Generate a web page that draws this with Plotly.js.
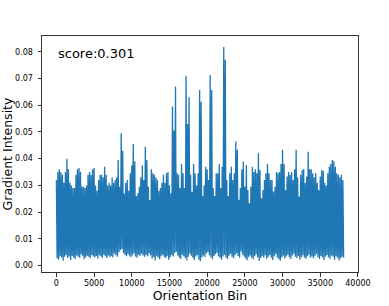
<!DOCTYPE html>
<html>
<head>
<meta charset="utf-8">
<script src="https://cdn.plot.ly/plotly-3.0.1.min.js"></script>
<style>
html,body{margin:0;padding:0;background:#fff;}
#chart{width:389px;height:306px;}
</style>
</head>
<body>
<div id="chart"></div>
<script>
const binStep = 200;
const upperEnvelope = [
0.032,0.035,0.036,0.035,0.034,0.031,0.035,0.040,0.036,0.031,
0.030,0.029,0.029,0.034,0.036,0.0365,0.035,0.0295,0.0295,0.029,
0.030,0.034,0.035,0.034,0.036,0.0365,0.030,0.028,0.032,0.034,
0.034,0.033,0.037,0.034,0.030,0.031,0.030,0.033,0.031,0.032,
0.033,0.0395,0.0295,0.0495,0.043,0.027,0.031,0.032,0.028,0.0345,
0.0375,0.0455,0.039,0.026,0.027,0.0295,0.033,0.0375,0.032,0.0445,
0.0395,0.0295,0.0245,0.036,0.0345,0.034,0.033,0.032,0.028,0.029,
0.031,0.034,0.031,0.0345,0.035,0.030,0.027,0.0595,0.0505,0.067,
0.0345,0.034,0.029,0.038,0.0345,0.029,0.071,0.053,0.063,0.034,
0.0275,0.038,0.0345,0.030,0.0345,0.0657,0.0613,0.026,0.030,0.037,
0.036,0.032,0.0713,0.0657,0.029,0.026,0.0345,0.0345,0.038,0.029,
0.037,0.0818,0.077,0.032,0.026,0.0345,0.037,0.032,0.0345,0.0464,
0.0433,0.0246,0.029,0.036,0.0389,0.0295,0.0376,0.0283,0.0233,0.0295,
0.037,0.035,0.036,0.0345,0.042,0.0358,0.0252,0.0283,0.032,0.0345,
0.038,0.0345,0.032,0.032,0.0277,0.0295,0.035,0.0345,0.035,0.038,
0.0433,0.038,0.0283,0.0333,0.035,0.034,0.035,0.032,0.036,0.0433,
0.033,0.0258,0.034,0.0358,0.036,0.031,0.0333,0.0426,0.036,0.036,
0.0345,0.033,0.0345,0.031,0.0283,0.0333,0.0358,0.0355,0.031,0.030,
0.0345,0.037,0.038,0.0395,0.039,0.037,0.0345,0.034,0.033,0.034,
0.032
];
const lowerEnvelope = [
0.0027,0.0022,0.0035,0.0030,0.0018,0.0033,0.0040,0.0028,0.0034,0.0021,
0.0036,0.0030,0.0025,0.0038,0.0033,0.0029,0.0042,0.0035,0.0024,0.0031,
0.0037,0.0033,0.0027,0.0040,0.0034,0.0030,0.0036,0.0026,0.0039,0.0034,
0.0029,0.0041,0.0035,0.0028,0.0038,0.0032,0.0036,0.0030,0.0045,0.0039,
0.0033,0.0050,0.0058,0.0062,0.0047,0.0040,0.0035,0.0043,0.0037,0.0031,
0.0039,0.0046,0.0034,0.0029,0.0041,0.0036,0.0044,0.0038,0.0033,0.0040,
0.0035,0.0045,0.0039,0.0026,0.0032,0.0019,0.0037,0.0030,0.0024,0.0035,
0.0041,0.0033,0.0028,0.0036,0.0022,0.0031,0.0040,0.0034,0.0047,0.0052,
0.0038,0.0030,0.0025,0.0041,0.0035,0.0028,0.0019,0.0033,0.0044,0.0037,
0.0029,0.0021,0.0034,0.0040,0.0023,0.0016,0.0030,0.0038,0.0032,0.0045,
0.0051,0.0039,0.0031,0.0024,0.0036,0.0042,0.0048,0.0035,0.0029,0.0022,
0.0034,0.0041,0.0030,0.0025,0.0037,0.0044,0.0033,0.0027,0.0039,0.0046,
0.0036,0.0029,0.0053,0.0041,0.0034,0.0027,0.0020,0.0032,0.0038,0.0030,
0.0024,0.0035,0.0042,0.0031,0.0017,0.0028,0.0036,0.0030,0.0039,0.0026,
0.0033,0.0040,0.0029,0.0021,0.0035,0.0043,0.0031,0.0024,0.0018,0.0030,
0.0037,0.0027,0.0034,0.0041,0.0032,0.0025,0.0038,0.0044,0.0033,0.0028,
0.0036,0.0022,0.0031,0.0039,0.0030,0.0026,0.0035,0.0041,0.0029,0.0034,
0.0027,0.0037,0.0043,0.0032,0.0025,0.0036,0.0030,0.0021,0.0034,0.0040,
0.0031,0.0026,0.0038,0.0033,0.0022,0.0035,0.0029,0.0019,0.0027,0.0033,
0.0030
];
const xTickVals = [0,5000,10000,15000,20000,25000,30000,35000,40000];
const yTickVals = [0,0.01,0.02,0.03,0.04,0.05,0.06,0.07,0.08];
const scoreText = "score:0.301";

// dense signal drawn as alternating high / low samples
const bins = upperEnvelope.map((_, i) => i * binStep);
const xs = [], ys = [];
for (let i = 0; i < bins.length; i++) {
  xs.push(bins[i]); ys.push(upperEnvelope[i]);
  xs.push(bins[i] + binStep / 2); ys.push(lowerEnvelope[i]);
}

const font = {family: "DejaVu Sans, sans-serif", color: "#000"};
const trace = {
  x: xs, y: ys, type: "scatter", mode: "lines",
  line: {color: "#1f77b4", width: 1.3, simplify: false},
  hoverinfo: "skip"
};
const axisCommon = {
  showgrid: false, zeroline: false, showline: true, mirror: true,
  linecolor: "#333", linewidth: 1, ticks: "outside", ticklen: 3.5,
  tickwidth: 0.8, tickcolor: "#000", automargin: false
};
const layout = {
  width: 389, height: 306,
  margin: {l: 42, r: 31, t: 36, b: 34, pad: 0},
  paper_bgcolor: "#fff", plot_bgcolor: "#fff",
  showlegend: false,
  font: font,
  xaxis: Object.assign({}, axisCommon, {
    range: [-1905, 40005], tickvals: xTickVals, tickformat: "d",
    tickfont: {family: font.family, size: 8, color: "#000"},
    title: {text: "Orientation Bin", font: {family: font.family, size: 12.5, color: "#000"}, standoff: 2}
  }),
  yaxis: Object.assign({}, axisCommon, {
    range: [-0.0024, 0.0859], tickvals: yTickVals, tickformat: ".2f",
    tickfont: {family: font.family, size: 8, color: "#000"},
    ticklabelstandoff: 3,
    title: {text: "Gradient Intensity", font: {family: font.family, size: 12.5, color: "#000"}, standoff: 3}
  }),
  annotations: [{
    text: scoreText, xref: "paper", yref: "paper", x: 0.045, y: 0.925,
    xanchor: "left", yanchor: "middle", showarrow: false,
    font: {family: font.family, size: 13, color: "#000"}
  }]
};
Plotly.newPlot("chart", [trace], layout, {displayModeBar: false, staticPlot: true});
</script>
</body>
</html>
